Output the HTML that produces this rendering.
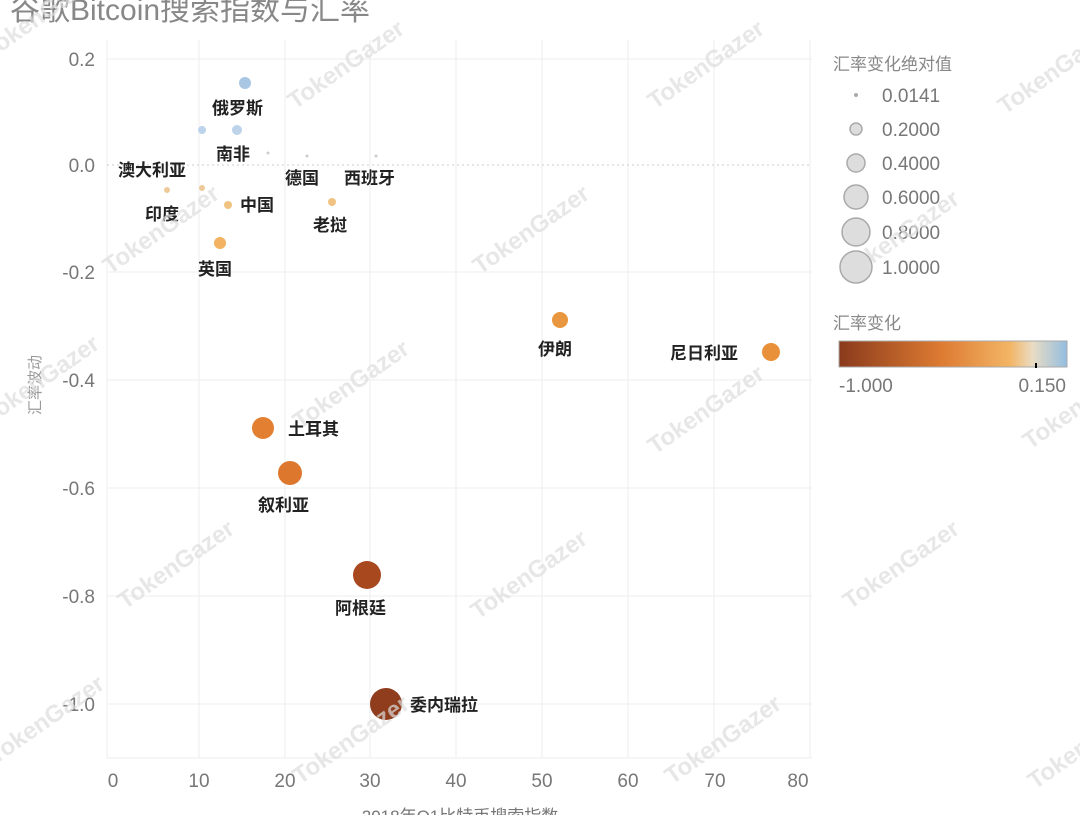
<!DOCTYPE html>
<html><head><meta charset="utf-8"><style>
body{margin:0;background:#fff;}
svg text{font-family:"Liberation Sans","Noto Sans CJK SC",sans-serif;}
.t{fill:#777;font-size:19px;}
.lb{font-family:"Noto Serif CJK SC","Liberation Serif",serif!important;font-weight:bold;font-size:17px;fill:#222;}
.wm{fill:#ddd;font-size:24px;font-weight:bold;}
</style></head><body>
<svg width="1080" height="815" xmlns="http://www.w3.org/2000/svg">
<defs><linearGradient id="g" x1="0" x2="1">
<stop offset="0" stop-color="#8a3a1c"/><stop offset="0.45" stop-color="#dd7b32"/><stop offset="0.75" stop-color="#f3b565"/><stop offset="0.85" stop-color="#e9dcc4"/><stop offset="1" stop-color="#93bde0"/></linearGradient></defs>
<text x="10" y="20" font-size="30" fill="#888">谷歌Bitcoin搜索指数与汇率</text>
<g stroke="#eee" stroke-width="1">
<line x1="107" y1="59" x2="812" y2="59"/><line x1="107" y1="272" x2="812" y2="272"/><line x1="107" y1="380" x2="812" y2="380"/><line x1="107" y1="488" x2="812" y2="488"/><line x1="107" y1="596" x2="812" y2="596"/><line x1="107" y1="704" x2="812" y2="704"/><line x1="107" y1="758" x2="812" y2="758"/>
<line x1="107" y1="40" x2="107" y2="758"/><line x1="199" y1="40" x2="199" y2="758"/><line x1="285" y1="40" x2="285" y2="758"/><line x1="370" y1="40" x2="370" y2="758"/><line x1="456" y1="40" x2="456" y2="758"/><line x1="542" y1="40" x2="542" y2="758"/><line x1="628" y1="40" x2="628" y2="758"/><line x1="714" y1="40" x2="714" y2="758"/><line x1="810" y1="40" x2="810" y2="758"/>
</g>
<line x1="107" y1="165" x2="812" y2="165" stroke="#ccc" stroke-dasharray="2,3"/>
<g class="t" text-anchor="end">
<text x="95" y="66">0.2</text><text x="95" y="172">0.0</text><text x="95" y="279">-0.2</text><text x="95" y="387">-0.4</text><text x="95" y="495">-0.6</text><text x="95" y="603">-0.8</text><text x="95" y="711">-1.0</text></g>
<g class="t" text-anchor="middle">
<text x="113" y="787">0</text><text x="199" y="787">10</text><text x="285" y="787">20</text><text x="370" y="787">30</text><text x="456" y="787">40</text><text x="542" y="787">50</text><text x="628" y="787">60</text><text x="715" y="787">70</text><text x="798" y="787">80</text></g>
<text x="460" y="822" font-size="17" fill="#777" text-anchor="middle">2018年Q1比特币搜索指数</text>
<text transform="translate(40,385) rotate(-90)" font-size="15" fill="#999" text-anchor="middle">汇率波动</text>
<g>
<circle cx="245" cy="83" r="6" fill="#a9c6e2"/>
<circle cx="202" cy="130" r="4" fill="#bcd3ea"/><circle cx="237" cy="130" r="5" fill="#bcd3ea"/>
<circle cx="268" cy="153" r="1.5" fill="#ccc"/><circle cx="307" cy="156" r="1.5" fill="#ccc"/><circle cx="376" cy="156" r="1.5" fill="#ccc"/>
<circle cx="167" cy="190" r="3" fill="#eec99a"/><circle cx="202" cy="188" r="3" fill="#eec99a"/>
<circle cx="228" cy="205" r="4" fill="#f0c382"/><circle cx="332" cy="202" r="4" fill="#f0c382"/>
<circle cx="220" cy="243" r="6" fill="#f2b261"/>
<circle cx="560" cy="320" r="8" fill="#e9973f"/><circle cx="771" cy="352" r="9" fill="#e9913a"/>
<circle cx="263" cy="428" r="11" fill="#e27f30"/><circle cx="290" cy="473" r="12" fill="#dd772d"/>
<circle cx="367" cy="575" r="14" fill="#a8481f"/><circle cx="386" cy="704" r="16" fill="#8f3d1d"/>
</g>
<g class="lb">
<text x="212" y="114">俄罗斯</text><text x="216" y="160">南非</text><text x="118" y="176">澳大利亚</text><text x="285" y="184">德国</text><text x="344" y="184">西班牙</text>
<text x="145" y="220">印度</text><text x="240" y="211">中国</text><text x="313" y="231">老挝</text><text x="198" y="275">英国</text>
<text x="538" y="355">伊朗</text><text x="670" y="359">尼日利亚</text><text x="288" y="435">土耳其</text><text x="258" y="511">叙利亚</text><text x="335" y="614">阿根廷</text><text x="410" y="711">委内瑞拉</text></g>
<text x="833" y="70" font-size="17" fill="#888" font-family="Noto Serif CJK SC,serif">汇率变化绝对值</text>
<g fill="#ddd" stroke="#aaa" stroke-width="1.5">
<circle cx="856" cy="95" r="2" fill="#aaa" stroke="none"/><circle cx="856" cy="129" r="6"/><circle cx="856" cy="163" r="9"/><circle cx="856" cy="197" r="12"/><circle cx="856" cy="232" r="14"/><circle cx="856" cy="267" r="16"/></g>
<g class="t" font-size="19"><text x="882" y="102">0.0141</text><text x="882" y="136">0.2000</text><text x="882" y="170">0.4000</text><text x="882" y="204">0.6000</text><text x="882" y="239">0.8000</text><text x="882" y="274">1.0000</text></g>
<text x="833" y="329" font-size="17" fill="#888" font-family="Noto Serif CJK SC,serif">汇率变化</text>
<rect x="839" y="341" width="228" height="26" fill="url(#g)" stroke="#aaa"/>
<line x1="1036" y1="363" x2="1036" y2="368" stroke="#000" stroke-width="2"/>
<g class="t"><text x="839" y="392">-1.000</text><text x="1066" y="392" text-anchor="end">0.150</text></g>
<g class="wm" opacity="0.7">
<text transform="translate(-10,60) rotate(-35)">TokenGazer</text>
<text transform="translate(295,110) rotate(-35)">TokenGazer</text>
<text transform="translate(655,110) rotate(-35)">TokenGazer</text>
<text transform="translate(1005,115) rotate(-35)">TokenGazer</text>
<text transform="translate(110,275) rotate(-35)">TokenGazer</text>
<text transform="translate(480,275) rotate(-35)">TokenGazer</text>
<text transform="translate(850,280) rotate(-35)">TokenGazer</text>
<text transform="translate(-10,425) rotate(-35)">TokenGazer</text>
<text transform="translate(300,430) rotate(-35)">TokenGazer</text>
<text transform="translate(655,455) rotate(-35)">TokenGazer</text>
<text transform="translate(1030,450) rotate(-35)">TokenGazer</text>
<text transform="translate(125,610) rotate(-35)">TokenGazer</text>
<text transform="translate(478,620) rotate(-35)">TokenGazer</text>
<text transform="translate(850,610) rotate(-35)">TokenGazer</text>
<text transform="translate(-5,765) rotate(-35)">TokenGazer</text>
<text transform="translate(300,785) rotate(-35)">TokenGazer</text>
<text transform="translate(672,785) rotate(-35)">TokenGazer</text>
<text transform="translate(1035,790) rotate(-35)">TokenGazer</text>
</g>
</svg>
</body></html>
